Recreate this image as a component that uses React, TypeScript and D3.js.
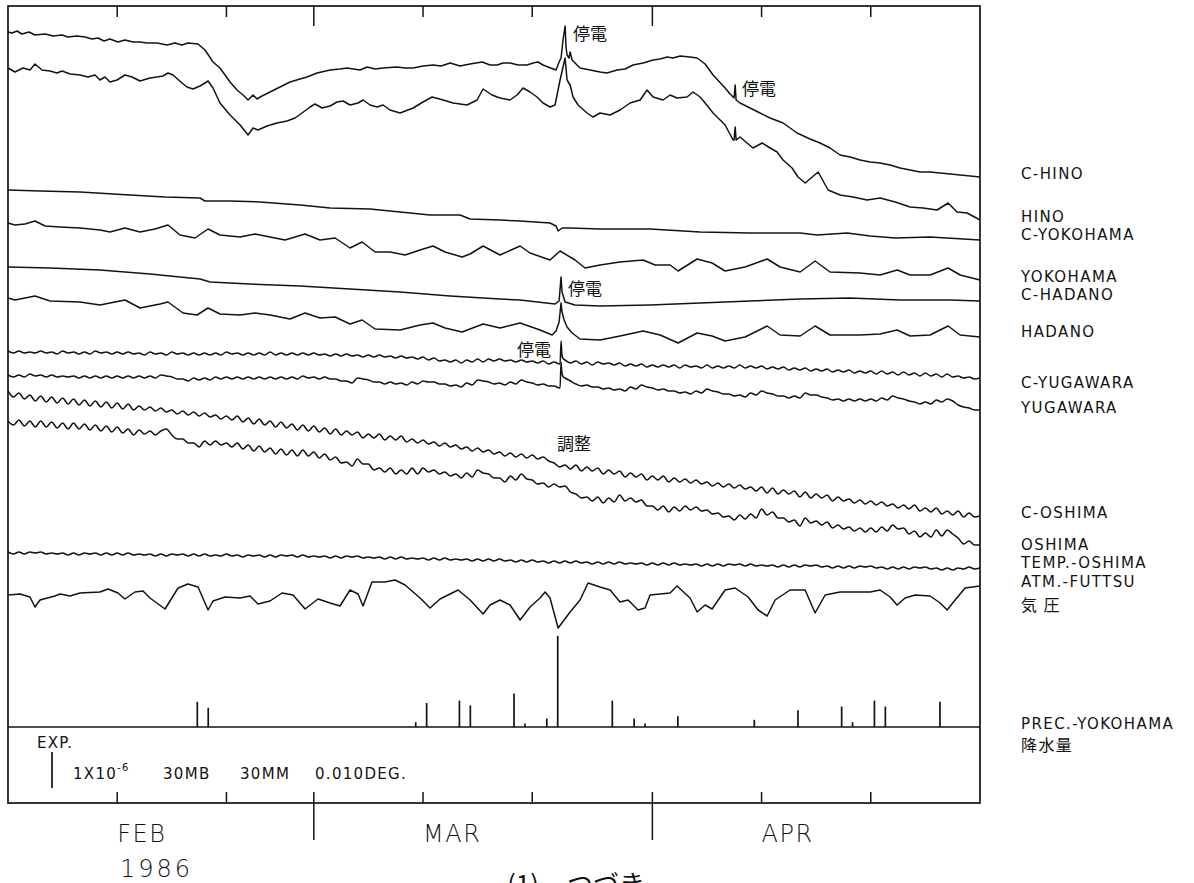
import React from "react";
import * as d3 from "d3";

type Knot = [number, number];

// Record runs from 1 Feb to 1 May 1986 (UTC)
const START = Date.UTC(1986, 1, 1);
const END = Date.UTC(1986, 4, 1);
const DAY_MS = 86400000;

// Deflections are in scale-bar units (36 units = one EXP bar), downward positive.
// Irregular knots: [days since 1 Feb, deflection]
const cHino: Knot[] = [[0,0],[0.37,1],[0.82,-1],[1.28,2],[1.92,0],[2.47,3],[3.39,2],[4.12,4],[4.95,3],[5.49,5],[6.32,4],[7.05,5],[7.69,7],[8.24,6],[8.79,9],[9.34,7],[10.07,10],[10.71,8],[11.45,10],[12.09,10],[12.73,11],[13.65,11],[14.56,13],[15.29,11],[15.93,13],[16.48,11],[17.4,12],[18.04,18],[18.77,30],[19.41,36],[20.33,50],[20.97,58],[21.52,63],[21.98,68],[22.44,63],[22.8,67],[23.26,64],[23.99,60],[24.91,55],[25.82,50],[26.74,47],[27.38,45],[28.3,41],[29.49,38],[30.4,37],[31.04,36],[32.23,38],[32.88,35],[33.61,37],[34.34,36],[35.62,35],[36.36,36],[37.09,36],[38,34],[38.92,33],[39.65,34],[40.48,31],[41.39,34],[42.31,32],[43.41,30],[44.14,33],[44.78,33],[45.33,31],[45.97,31],[46.7,33],[47.53,33],[48.08,31],[48.53,30],[48.99,33],[49.45,35],[50.18,38],[50.46,30],[50.64,26],[50.82,8],[51.01,-6],[51.1,16],[51.19,23],[51.37,26],[51.47,20],[51.65,28],[51.92,31],[52.38,36],[53.3,38],[54.21,40],[54.85,41],[55.77,38],[56.5,37],[57.23,33],[58.15,31],[59.07,28],[59.71,27],[60.35,25],[60.9,26],[61.54,24],[62.45,25],[63.1,26],[63.83,32],[64.56,43],[65.66,56],[66.12,62],[66.48,66],[66.58,53],[66.67,68],[67.03,71],[67.95,76],[68.86,81],[69.78,86],[70.97,91],[72.25,101],[73.44,107],[74.36,111],[75.27,116],[76.19,123],[77.11,125],[78.02,128],[78.94,130],[79.85,131],[80.77,133],[81.68,136],[82.6,138],[83.52,140],[84.43,140],[85.35,141],[86.26,142],[87.18,143],[88.1,144],[89,145]];

const hino: Knot[] = [[0,0],[0.64,4],[1.37,0],[2.01,2],[2.47,-4],[3.11,2],[3.85,3],[4.49,5],[4.95,3],[5.68,6],[6.59,7],[7.33,9],[7.97,7],[8.42,12],[8.88,9],[9.34,14],[9.98,12],[10.71,7],[11.36,9],[12.09,13],[13,10],[13.65,9],[14.19,8],[14.65,5],[15.11,7],[15.93,15],[16.39,19],[16.94,21],[17.58,18],[18.04,15],[18.32,13],[18.77,20],[19.41,35],[20.33,47],[21.25,57],[21.98,67],[22.44,60],[22.89,62],[23.72,58],[24.63,55],[25.55,53],[26.28,50],[26.92,45],[27.66,39],[28.11,36],[28.75,40],[29.49,38],[30.13,34],[30.68,33],[31.32,37],[32.05,35],[32.51,32],[33.15,37],[33.79,39],[34.34,37],[34.98,42],[35.9,45],[37.09,40],[38,34],[38.83,29],[39.84,32],[40.75,35],[42.03,37],[42.95,32],[43.5,21],[44.32,27],[45.05,30],[45.97,32],[46.61,27],[47.16,20],[47.8,24],[48.44,29],[48.99,35],[49.63,39],[50.09,37],[50.55,12],[50.82,-1],[51.01,-10],[51.19,12],[51.47,17],[51.74,29],[52.2,37],[53.02,45],[53.57,49],[54.21,45],[55.13,47],[56.04,42],[56.96,35],[57.88,32],[58.52,22],[59.07,29],[59.98,32],[60.62,27],[61.26,30],[62.18,29],[62.73,24],[63.37,29],[63.83,35],[64.56,45],[65.66,57],[66.39,72],[66.48,72],[66.58,59],[66.67,72],[67.03,69],[67.67,75],[68.22,80],[69.05,75],[69.78,80],[70.42,84],[70.97,92],[71.79,100],[72.34,109],[72.99,115],[74.18,104],[75.09,122],[76.19,127],[77.38,129],[78.66,132],[79.85,130],[81.23,134],[82.6,139],[83.79,140],[85.07,142],[86.08,135],[86.9,144],[87.82,145],[89,152]];

const cYokohama: Knot[] = [[0,0],[2.93,1],[6.59,2],[11.17,5],[14.38,7],[17.58,8],[18.04,11],[20.33,11],[23.08,12],[26.74,15],[29.49,18],[33.15,19],[35.9,22],[38.64,25],[41.39,25],[42.31,29],[45.05,30],[46.89,31],[49.63,33],[50.18,36],[50.37,41],[50.73,38],[51.47,38],[54.21,39],[58.79,39],[63.37,42],[67.95,43],[72.53,43],[74.08,45],[76.83,43],[78.94,46],[81.23,48],[84.43,47],[89,50]];

const yokohama: Knot[] = [[0,0],[0.64,2],[1.56,1],[2.47,-2],[3.39,3],[4.76,4],[6.59,5],[8.42,7],[9.34,9],[10.71,5],[12.09,9],[13.46,6],[14.65,2],[15.75,12],[17.12,15],[18.32,6],[19.41,12],[21.25,14],[22.62,11],[23.99,14],[25.37,17],[27.2,11],[28.57,17],[29.95,15],[31.32,25],[32.42,19],[33.61,29],[34.98,29],[36.36,32],[37.73,27],[38.92,23],[40.02,29],[41.58,34],[42.31,31],[43.5,23],[45.05,32],[46.89,23],[47.8,30],[49.63,37],[50.55,28],[51.92,37],[52.84,45],[54.21,42],[56.04,39],[58.15,37],[59.25,42],[60.62,42],[61.36,48],[63.1,36],[64.47,40],[65.66,48],[67.49,44],[69.51,36],[70.7,44],[72.53,49],[73.9,38],[75.27,49],[78.02,50],[79.85,52],[81.41,47],[82.6,52],[84.43,52],[86.08,45],[87.18,52],[89,57]];

const cHadano: Knot[] = [[0,0],[3.85,1],[8.42,3],[13,7],[17.58,12],[18.5,15],[22.16,17],[26.74,19],[31.32,22],[35.9,25],[40.48,29],[45.05,32],[46.89,33],[50.09,37],[50.46,34],[50.64,10],[50.73,25],[51.01,35],[51.92,38],[54.21,39],[58.79,38],[63.37,36],[67.95,34],[72.53,32],[77.11,31],[81.68,33],[86.26,33],[89,34]];

const hadano: Knot[] = [[0,0],[0.64,2],[2.47,-2],[3.85,3],[6.59,4],[8.42,7],[10.71,2],[12.09,10],[13.92,6],[14.65,4],[16.03,15],[17.31,17],[18.32,10],[19.41,16],[21.25,17],[22.62,15],[23.99,17],[25.82,21],[27.2,15],[28.57,20],[29.95,19],[31.32,26],[32.42,22],[33.61,31],[35.9,32],[37.73,27],[38.92,25],[40.02,30],[41.58,34],[43.5,26],[45.05,30],[46.89,25],[48.72,32],[49.82,37],[50.18,33],[50.46,24],[50.64,5],[50.73,14],[50.92,22],[51.19,29],[51.65,35],[52.38,41],[54.21,42],[56.04,38],[58.15,33],[59.71,37],[61.36,45],[63.1,35],[64.47,38],[65.66,43],[67.49,39],[69.51,28],[70.7,37],[72.53,38],[73.9,28],[75.27,37],[78.02,37],[79.85,36],[81.41,32],[82.6,38],[84.43,37],[86.08,28],[87.18,37],[89,39]];

// Half-day samples (index i = day i/2) for the tidal records
const cYugawara: number[] = [
  -1,1,-1,1,0,1,-1,1,0,2,-1,1,0,2,0,2,-1,1,0,2,
  0,2,0,2,1,3,0,2,1,3,0,2,1,3,1,3,1,3,1,3,
  0,2,1,3,1,3,1,3,0,3,1,3,1,3,1,3,1,3,2,4,
  2,4,2,4,3,5,3,5,3,5,4,6,4,6,5,7,5,8,6,9,
  8,10,8,11,8,10,7,10,7,9,7,9,8,10,8,10,9,11,9,12,
  10,12,8,11,9,12,10,13,10,12,11,13,11,14,12,14,12,15,13,15,
  13,15,13,16,13,15,14,16,13,16,14,16,14,16,13,16,14,16,14,17,
  15,17,15,18,16,18,16,19,17,19,17,20,18,20,18,21,19,21,19,22,
  19,22,20,23,20,23,21,24,21,24,22,25,22,25,24,26,25,27,
  26,
];
const cYugawaraOutage: Knot[] = [[50.55,12],[50.64,-11],[50.72,3],[50.85,7]];

const yugawara: number[] = [
  -1,1,-1,1,-2,0,-1,1,-1,1,0,1,0,2,0,2,0,2,0,2,
  0,2,0,2,0,2,0,2,-1,0,1,3,3,5,2,4,2,4,1,3,
  1,3,1,3,1,3,1,3,1,3,1,3,1,3,0,2,1,3,1,3,
  3,5,5,7,2,3,4,6,6,8,6,8,7,9,6,8,5,6,6,8,
  8,10,9,11,7,9,4,5,6,8,7,9,6,8,4,6,7,9,8,10,
  10,12,2,5,8,10,9,11,11,13,12,14,13,15,11,13,9,11,12,14,
  13,15,15,17,16,18,15,17,13,15,16,18,18,20,19,21,17,19,15,17,
  18,20,20,22,20,22,17,19,19,21,22,24,23,25,23,25,23,25,23,25,
  22,24,20,22,23,25,26,28,26,28,24,26,23,25,29,31,32,34,
  34,
];
const yugawaraOutage: Knot[] = [[50.55,12],[50.64,-14],[50.72,-3],[50.85,1]];

const cOshima: number[] = [
  -3,3,-1,5,1,7,2,8,3,9,4,10,5,11,6,12,7,13,8,14,
  9,15,10,16,12,16,13,17,14,18,16,20,17,21,18,22,19,23,21,25,
  22,26,22,28,24,30,25,31,27,33,28,34,30,36,31,37,32,38,34,40,
  35,41,37,41,38,44,40,44,40,46,42,46,42,48,45,49,46,50,48,52,
  49,53,51,55,53,57,54,58,56,60,58,62,59,63,60,64,61,65,63,67,
  69,73,71,75,71,77,73,77,74,80,76,80,77,83,79,83,80,86,82,86,
  82,88,84,88,85,89,86,90,88,92,89,93,90,94,91,95,93,97,93,99,
  94,100,96,100,97,103,98,104,100,104,101,107,103,107,105,109,106,110,107,111,
  108,112,110,114,111,115,111,117,114,118,114,120,117,121,117,123,119,123,
  122,
];

const oshima: number[] = [
  -2,2,-3,3,-2,4,-2,4,-1,5,0,6,0,6,1,7,2,8,3,9,
  4,10,6,12,7,11,8,12,8,6,12,16,16,20,20,24,18,22,18,22,
  20,24,20,26,22,28,23,29,25,31,26,32,27,33,27,33,29,35,31,37,
  34,40,39,43,36,41,41,47,45,49,45,51,47,51,45,51,45,49,47,51,
  49,53,51,55,50,54,47,50,51,55,55,59,53,57,51,56,57,61,60,64,
  61,64,63,69,71,75,74,78,74,80,75,79,72,78,75,79,77,83,83,87,
  83,89,84,88,83,87,84,88,87,91,90,94,93,97,92,96,91,95,86,92,
  89,95,95,99,97,103,95,100,98,102,99,105,102,106,104,108,105,109,105,109,
  104,108,102,106,105,111,108,114,110,114,107,113,107,111,115,121,118,122,
  122,
];

const tempOshima: number[] = [
  -1,1,-1,1,-1,0,-1,1,0,1,0,2,0,2,0,1,0,2,0,2,
  0,2,0,2,1,2,1,3,1,3,1,2,1,3,1,3,1,3,2,3,
  1,3,2,4,2,3,2,4,2,4,2,3,2,4,2,4,3,4,3,5,
  3,5,3,4,3,5,4,5,4,6,4,6,4,6,5,6,5,7,5,7,
  5,7,6,7,6,8,6,8,6,8,6,8,7,9,7,9,7,9,8,10,
  8,10,8,10,8,10,9,11,9,11,9,11,9,11,10,11,10,12,10,12,
  10,12,10,12,11,12,11,13,11,13,11,13,11,12,11,13,11,13,12,13,
  12,14,12,14,12,14,12,13,12,14,13,15,13,15,13,15,13,14,13,15,
  14,16,14,16,14,16,14,15,14,16,15,17,15,17,15,16,14,16,
  15,
];

// Atmospheric pressure at Futtsu (30 MB per scale bar), low pressure downward
const atmFuttsu: Knot[] = [[0,0],[1.1,-1],[2.01,2],[2.47,12],[2.93,5],[4.3,1],[4.76,-1],[5.68,1],[6.59,-2],[8.42,-3],[9.16,-6],[10.07,-2],[10.71,4],[11.63,-3],[12.36,-4],[13,3],[14.38,14],[15.57,-7],[16.48,-11],[17.4,-8],[18.32,15],[18.77,6],[19.87,2],[21.25,3],[22.16,1],[22.89,9],[23.99,6],[25.09,-2],[26.1,0],[27.2,14],[28.39,4],[29.49,8],[30.4,11],[31.32,-5],[32.05,-1],[32.51,11],[33.33,-13],[34.52,-13],[35.44,-15],[36.36,-10],[37.73,3],[38.64,13],[39.56,4],[40.48,-1],[41.21,-5],[42.31,5],[43.5,19],[44.14,10],[45.05,5],[45.97,10],[46.89,25],[47.8,12],[48.72,3],[49.18,-3],[49.63,3],[50.37,33],[51.47,17],[52.38,5],[53.11,-12],[54.21,-8],[55.13,-5],[56.04,7],[56.78,5],[57.69,15],[58.33,13],[58.79,0],[60.62,-2],[61.26,-9],[62.45,3],[63.1,17],[63.83,10],[64.47,14],[65.66,-5],[66.58,-7],[67.77,2],[68.68,15],[69.51,21],[70.24,5],[71.61,-5],[72.99,-5],[73.9,18],[74.82,0],[76.19,-3],[78.94,-3],[79.85,-5],[80.77,2],[81.41,10],[82.14,3],[83.06,0],[84.43,1],[85.35,8],[85.99,15],[86.72,5],[87.64,-7],[89,-9]];

// Daily precipitation at Yokohama (mm)
const precipDates = ["1986-02-18","1986-02-19","1986-03-10","1986-03-11","1986-03-14","1986-03-15","1986-03-19","1986-03-20","1986-03-22","1986-03-23","1986-03-28","1986-03-30","1986-03-31","1986-04-03","1986-04-10","1986-04-14","1986-04-18","1986-04-19","1986-04-21","1986-04-22","1986-04-27"];
const precipMm = [21,16,4,20,22,18,28,3,7,76,22,7,3,9,6,14,17,4,22,17,21];

const traceLabels = ["C-HINO","HINO","C-YOKOHAMA","YOKOHAMA","C-HADANO","HADANO","C-YUGAWARA","YUGAWARA","C-OSHIMA","OSHIMA","TEMP.-OSHIMA","ATM.-FUTTSU","気 圧","PREC.-YOKOHAMA","降水量"];
const monthLabels = ["FEB","MAR","APR"];
const yearLabel = "1986";
const scaleLabels = ["1X10","30MB","30MM","0.010DEG."];
const outageNote = "停電";
const adjustNote = "調整";

// ---- layout ----
const W = 1194;
const H = 883;
const F = { left: 8, right: 980, top: 6, bottom: 803, precipBase: 727 };
const BAR_PX = 36;
// baseline (px) of each trace, top to bottom
const traceOffsets = [32, 68, 190, 223, 267, 298, 352, 376, 394, 423, 553, 595];
// which traces are sampled densely enough to be drawn smoothed
const smoothTrace = [false, false, false, false, false, false, true, true, true, true, true, false];
const labelBaselines = [179, 222, 240, 282, 300, 337, 388, 413, 518, 550, 568, 587, 611, 729, 751];
const INK = "#131313";

const fromHalfDays = (vals: number[], events: Knot[] = []): Knot[] =>
  [...vals.map((v, i) => [i / 2, v] as Knot), ...events].sort((a, b) => a[0] - b[0]);

const series: Knot[][] = [
  cHino, hino, cYokohama, yokohama, cHadano, hadano,
  fromHalfDays(cYugawara, cYugawaraOutage),
  fromHalfDays(yugawara, yugawaraOutage),
  fromHalfDays(cOshima),
  fromHalfDays(oshima),
  fromHalfDays(tempOshima),
  atmFuttsu,
];

export default function App() {
  const x = d3.scaleUtc().domain([new Date(START), new Date(END)]).range([F.left, F.right]);
  const yUnit = d3.scaleLinear().domain([0, 36]).range([0, BAR_PX]);
  const yPrec = d3.scaleLinear().domain([0, 30]).range([0, BAR_PX]);
  const dayDate = (d: number) => new Date(START + d * DAY_MS);

  const months = d3.utcMonth.range(new Date(START), new Date(END));
  const majorTicks = months.slice(1);
  const minorTicks = months.flatMap((m) => [d3.utcDay.offset(m, 10), d3.utcDay.offset(m, 20)]);

  const labelFont = "'DejaVu Sans', sans-serif";
  const cjkFont = "'Noto Sans CJK JP', sans-serif";

  return (
    <div style={{ position: "absolute", left: 0, top: 0 }}>
      <svg width={W} height={H} viewBox={`0 0 ${W} ${H}`} style={{ display: "block", background: "#fff" }}>
        <rect x={0} y={0} width={W} height={H} fill="#fff" />
        {/* frame */}
        <rect x={F.left} y={F.top} width={F.right - F.left} height={F.bottom - F.top} fill="none" stroke={INK} strokeWidth={1.7} />
        <line x1={F.left} x2={F.right} y1={F.precipBase} y2={F.precipBase} stroke={INK} strokeWidth={1.5} />

        {/* time ticks */}
        {minorTicks.map((t, i) => (
          <g key={`mi${i}`} stroke={INK} strokeWidth={1.5}>
            <line x1={x(t)} x2={x(t)} y1={F.top} y2={F.top + 11} />
            <line x1={x(t)} x2={x(t)} y1={F.bottom} y2={F.bottom - 11} />
          </g>
        ))}
        {majorTicks.map((t, i) => (
          <g key={`ma${i}`} stroke={INK} strokeWidth={1.5}>
            <line x1={x(t)} x2={x(t)} y1={F.top} y2={F.top + 20} />
            <line x1={x(t)} x2={x(t)} y1={F.bottom - 11} y2={F.bottom + 37} />
          </g>
        ))}

        {/* traces */}
        {series.map((s, i) => {
          const off = traceOffsets[i];
          const line = d3.line<Knot>()
            .x((d) => x(dayDate(d[0])))
            .y((d) => off + yUnit(d[1]))
            .curve(smoothTrace[i] ? d3.curveMonotoneX : d3.curveLinear);
          return <path key={`s${i}`} d={line(s) ?? ""} fill="none" stroke={INK} strokeWidth={1.5} strokeLinejoin="round" />;
        })}

        {/* precipitation */}
        {precipDates.map((ds, i) => {
          const t = d3.utcHour.offset(new Date(ds + "T00:00:00Z"), 8);
          return (
            <line key={`p${i}`} x1={x(t)} x2={x(t)} y1={F.precipBase} y2={F.precipBase - yPrec(precipMm[i])} stroke={INK} strokeWidth={1.7} />
          );
        })}

        {/* annotations */}
        <g fontFamily={cjkFont} fontSize={17} fill={INK}>
          <text x={573} y={40}>{outageNote}</text>
          <text x={742} y={95}>{outageNote}</text>
          <text x={568} y={295}>{outageNote}</text>
          <text x={517} y={356}>{outageNote}</text>
          <text x={557} y={450}>{adjustNote}</text>
        </g>

        {/* trace names */}
        <g fill={INK} fontSize={15} fontFamily={labelFont} letterSpacing={1.4}>
          {traceLabels.map((t, i) => {
            const cjk = /[\u3000-\u9fff]/.test(t);
            return (
              <text key={`l${i}`} x={1021} y={labelBaselines[i]} fontFamily={cjk ? cjkFont : labelFont} fontSize={cjk ? 16 : 15} style={{ whiteSpace: "pre" }}>
                {t}
              </text>
            );
          })}
        </g>

        {/* scale legend */}
        <g fill={INK} fontFamily={labelFont} fontSize={15} letterSpacing={1.3}>
          <text x={37} y={748}>EXP.</text>
          <line x1={52} x2={52} y1={752} y2={752 + yUnit(36)} stroke={INK} strokeWidth={1.7} />
          <text x={73} y={779}>
            {scaleLabels[0]}
            <tspan dy={-8} fontSize={10}>-6</tspan>
          </text>
          <text x={163} y={779}>{scaleLabels[1]}</text>
          <text x={240} y={779}>{scaleLabels[2]}</text>
          <text x={315} y={779}>{scaleLabels[3]}</text>
        </g>

        {/* month labels */}
        <g fill={INK} fontFamily={labelFont} fontWeight={200} fontSize={24} letterSpacing={1.5}>
          {months.map((m, i) => (
            <text key={`m${i}`} x={x(d3.utcDay.offset(m, 10))} y={842}>{monthLabels[i]}</text>
          ))}
          <text x={120} y={877} letterSpacing={3}>{yearLabel}</text>
        </g>

        {/* figure caption, running off the page */}
        <g fill={INK} fontFamily={cjkFont} fontSize={26}>
          <text x={507} y={894}>(1)</text>
          <text x={567} y={894}>つづき</text>
        </g>
      </svg>
    </div>
  );
}
